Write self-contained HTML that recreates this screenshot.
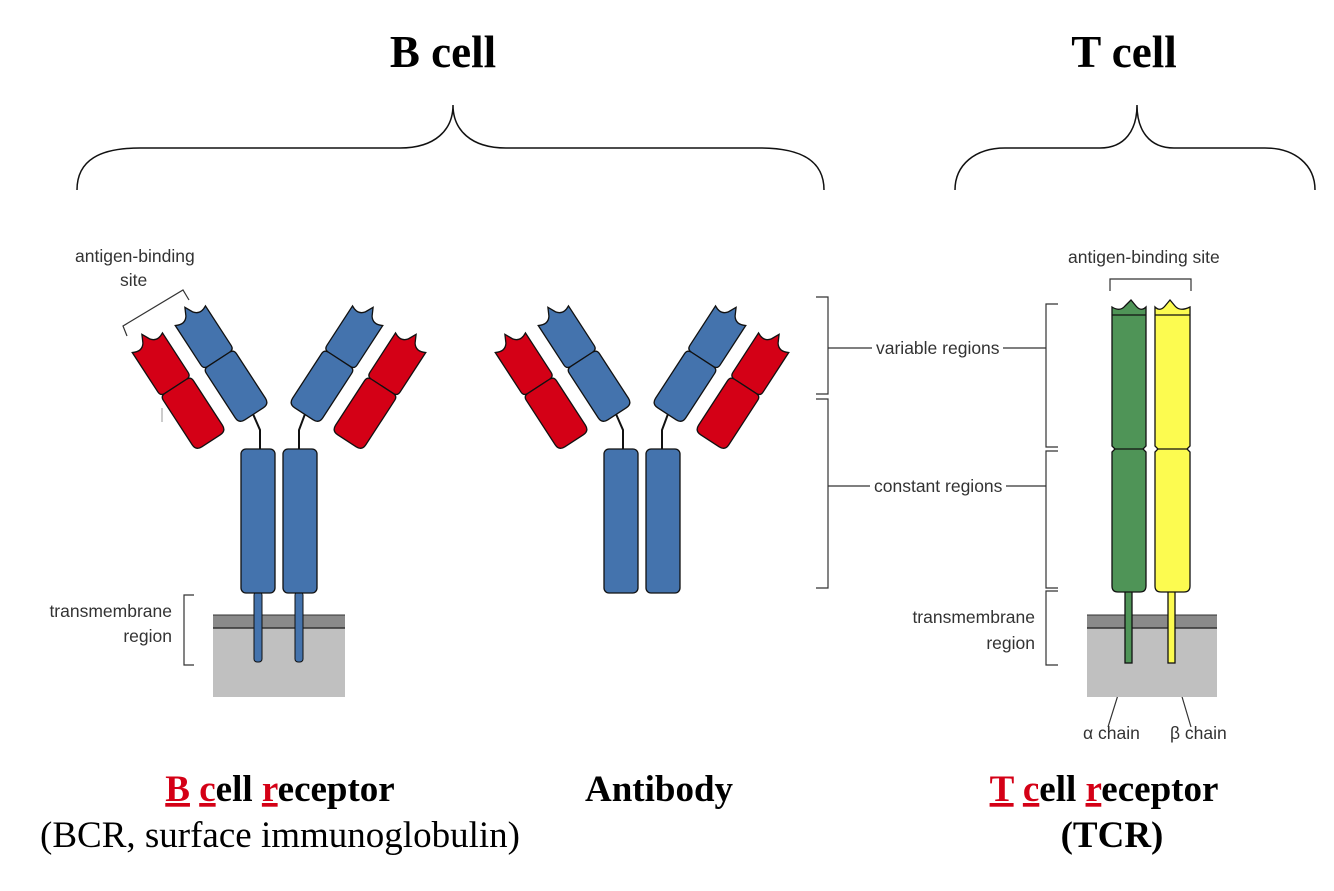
<!DOCTYPE html>
<html><head><meta charset="utf-8"><style>
html,body{margin:0;padding:0;background:#fff;}
svg{display:block;}
.s{font-family:"Liberation Sans",sans-serif;font-size:17.5px;fill:#333;}
.t{font-family:"Liberation Serif",serif;font-size:37px;fill:#000;}
</style></head><body>
<svg width="1334" height="891" viewBox="0 0 1334 891" xmlns="http://www.w3.org/2000/svg">
<defs>
<path id="v" d="M-18,8 Q-9,13 -4,6 L0,-2 L4,6 Q9,13 18,8 L18,55 Q18,60 13,60 L-13,60 Q-18,60 -18,55 Z"/>
<path id="c" d="M-13,60 L13,60 Q18,60 18,65 L18,118 Q18,125 11,125 L-11,125 Q-18,125 -18,118 L-18,65 Q-18,60 -13,60 Z"/>
<g id="ab">
  <g stroke="#111" stroke-width="1.3">
  <g transform="translate(186,309) rotate(-33)" fill="#4473ad"><use href="#v"/><use href="#c"/></g>
  <g transform="translate(143,336) rotate(-33)" fill="#d40016"><use href="#v"/><use href="#c"/></g>
  <g transform="translate(372,309) rotate(33)" fill="#4473ad"><use href="#v"/><use href="#c"/></g>
  <g transform="translate(415,336) rotate(33)" fill="#d40016"><use href="#v"/><use href="#c"/></g>
  <rect x="241" y="449" width="34" height="144" rx="5" fill="#4473ad"/>
  <rect x="283" y="449" width="34" height="144" rx="5" fill="#4473ad"/>
  </g>
  <polyline points="253,414 260,430 260,449" fill="none" stroke="#111" stroke-width="2"/>
  <polyline points="305,414 299,430 299,449" fill="none" stroke="#111" stroke-width="2"/>
</g>
</defs>

<text x="443" y="67" class="t" font-weight="bold" text-anchor="middle" style="font-size:45px">B cell</text>
<text x="1124" y="67" class="t" font-weight="bold" text-anchor="middle" style="font-size:45px">T cell</text>
<g fill="none" stroke="#111" stroke-width="1.5">
<path d="M77,190 C77,160 100,148 140,148 L400,148 C435,148 453,130 453,105 C453,130 471,148 506,148 L760,148 C800,148 824,160 824,190"/>
<path d="M955,190 C955,165 975,148 1005,148 L1100,148 C1125,148 1137,130 1137,105 C1137,130 1149,148 1174,148 L1265,148 C1295,148 1315,165 1315,190"/>
</g>

<rect x="213" y="615" width="132" height="13" fill="#8a8a8a"/>
<rect x="213" y="628" width="132" height="69" fill="#c0c0c0"/>
<line x1="213" y1="628" x2="345" y2="628" stroke="#333" stroke-width="1.5"/>
<line x1="213" y1="615" x2="345" y2="615" stroke="#333" stroke-width="1"/>
<rect x="254" y="592" width="8" height="70" rx="3" fill="#4473ad" stroke="#111" stroke-width="1"/>
<rect x="295" y="592" width="8" height="70" rx="3" fill="#4473ad" stroke="#111" stroke-width="1"/>
<use href="#ab"/>
<use href="#ab" transform="translate(363,0)"/>

<text x="75" y="262" class="s">antigen-binding</text>
<text x="120" y="286" class="s">site</text>
<polyline points="127,336 123,326 183,290 189,300" fill="none" stroke="#333" stroke-width="1.2"/>
<line x1="162" y1="408" x2="162" y2="422" stroke="#999" stroke-width="1"/>
<text x="172" y="617" class="s" text-anchor="end">transmembrane</text>
<text x="172" y="642" class="s" text-anchor="end">region</text>
<polyline points="194,595 184,595 184,665 194,665" fill="none" stroke="#333" stroke-width="1.2"/>

<g fill="none" stroke="#333" stroke-width="1.2">
<polyline points="816,297 828,297 828,394 816,394"/>
<polyline points="816,399 828,399 828,588 816,588"/>
<polyline points="1058,304 1046,304 1046,447 1058,447"/>
<polyline points="1058,451 1046,451 1046,588 1058,588"/>
<polyline points="1058,591 1046,591 1046,665 1058,665"/>
<line x1="828" y1="348" x2="872" y2="348"/>
<line x1="1003" y1="348" x2="1046" y2="348"/>
<line x1="828" y1="486" x2="870" y2="486"/>
<line x1="1006" y1="486" x2="1046" y2="486"/>
<polyline points="1110,291 1110,279 1191,279 1191,291"/>
<line x1="1128" y1="663" x2="1108" y2="727"/>
<line x1="1172" y1="663" x2="1191" y2="727"/>
</g>
<text x="876" y="354" class="s">variable regions</text>
<text x="874" y="492" class="s">constant regions</text>
<text x="1035" y="623" class="s" text-anchor="end">transmembrane</text>
<text x="1035" y="649" class="s" text-anchor="end">region</text>
<text x="1068" y="263" class="s">antigen-binding site</text>
<text x="1083" y="739" class="s">α chain</text>
<text x="1170" y="739" class="s">β chain</text>

<rect x="1087" y="615" width="130" height="13" fill="#8a8a8a"/>
<rect x="1087" y="628" width="130" height="69" fill="#c0c0c0"/>
<line x1="1087" y1="628" x2="1217" y2="628" stroke="#333" stroke-width="1.5"/>
<line x1="1087" y1="615" x2="1217" y2="615" stroke="#333" stroke-width="1"/>
<g stroke="#111" stroke-width="1.3">
<rect x="1125" y="588" width="7" height="75" fill="#4f9457"/>
<rect x="1168" y="588" width="7" height="75" fill="#fcfb50"/>
<path d="M1112,307 Q1120,312 1125,306 L1131,300 L1136,306 Q1141,312 1146,307 L1146,446 L1143,449 L1146,452 L1146,586 Q1146,592 1140,592 L1118,592 Q1112,592 1112,586 L1112,452 L1115,449 L1112,446 Z" fill="#4f9457"/>
<path d="M1155,307 Q1160,312 1165,306 L1170,300 L1175,306 Q1180,312 1190,307 L1190,446 L1187,449 L1190,452 L1190,586 Q1190,592 1184,592 L1161,592 Q1155,592 1155,586 L1155,452 L1158,449 L1155,446 Z" fill="#fcfb50"/>
<line x1="1112" y1="315" x2="1146" y2="315"/>
<line x1="1155" y1="315" x2="1190" y2="315"/>
<line x1="1114" y1="449" x2="1144" y2="449"/>
<line x1="1157" y1="449" x2="1188" y2="449"/>
</g>

<text x="280" y="801" class="t" font-weight="bold" text-anchor="middle"><tspan fill="#d40016" text-decoration="underline">B</tspan> <tspan fill="#d40016" text-decoration="underline">c</tspan>ell <tspan fill="#d40016" text-decoration="underline">r</tspan>eceptor</text>
<text x="280" y="847" class="t" text-anchor="middle">(BCR, surface immunoglobulin)</text>
<text x="659" y="801" class="t" font-weight="bold" text-anchor="middle">Antibody</text>
<text x="1104" y="801" class="t" font-weight="bold" text-anchor="middle"><tspan fill="#d40016" text-decoration="underline">T</tspan> <tspan fill="#d40016" text-decoration="underline">c</tspan>ell <tspan fill="#d40016" text-decoration="underline">r</tspan>eceptor</text>
<text x="1112" y="847" class="t" font-weight="bold" text-anchor="middle">(TCR)</text>
</svg>
</body></html>
